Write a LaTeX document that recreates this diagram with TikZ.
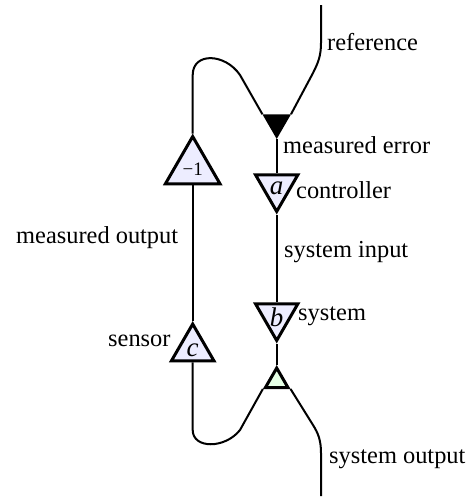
\documentclass[tikz,border=0pt]{standalone}
\usepackage{fontspec}
\setmainfont{Liberation Serif}
\usetikzlibrary{shapes.geometric}
\tikzstyle{updelta}=[regular polygon,regular polygon sides=3,draw,line width=3pt,inner sep=0pt,fill=blue!7]
\tikzstyle{downdelta}=[updelta,shape border rotate=180]
\tikzstyle{wire}=[line width=2pt]
\tikzstyle{tag}=[anchor=base west,inner sep=0pt,font=\fontsize{24.4}{28}\selectfont]
\tikzstyle{var}=[inner sep=0pt,yshift=-1.5pt,font=\fontsize{27}{28}\selectfont\itshape]

\begin{document}
\begin{tikzpicture}[x=1pt,y=-1pt]
    \useasboundingbox (0,0) rectangle (468,499);

    \foreach \pos/\name in {{(276.7,187)/ctrl}, {(276.7,316)/sys}}
        \node[downdelta, minimum size=49pt] (\name) at \pos {};

    \node[downdelta, minimum size=27pt, fill=black] (err) at (276.7,122.5) {};
    \node[updelta, minimum size=26pt, fill=green!10] (out) at (276.7,381) {};
    \node[updelta, minimum size=63pt] (neg) at (192.7,168) {};
    \node[updelta, minimum size=49pt] (sens) at (192.7,348.5) {};

    \node[var] (vara) at (ctrl) {a};
    \node[var] (varb) at (sys) {b};
    \node[var] (varc) at (sens) {c};
    \node[font=\fontsize{19}{20}\selectfont] (minusone) at (192.7,169.5) {−1};

    \coordinate (refin) at (321,5);
    \coordinate (sysout) at (321,496);

    \draw[wire] (refin) -- (321,43) .. controls (321,56) and (318,63) .. (313,73) -- (err.corner 2);
    \draw[wire] (err.corner 3) -- (240,75) .. controls (225,53) and (192.7,52) .. (192.7,75) -- (neg.corner 1);
    \draw[wire] (err.corner 1) -- (ctrl.side 2);
    \draw[wire] (ctrl.corner 1) -- (sys.side 2);
    \draw[wire] (sys.corner 1) -- (out.corner 1);
    \draw[wire] (neg.side 2) -- (sens.corner 1);
    \draw[wire] (sens.side 2) -- (192.7,430) .. controls (192.7,449) and (225,449) .. (240,430) -- (out.corner 2);
    \draw[wire] (out.corner 3) -- (313,425) .. controls (318,433) and (321,440) .. (321,453) -- (sysout);

    \foreach \pos/\name/\label in {{(327,50)/lref/reference}, {(283,153)/lerr/measured error}, {(296,198)/lctrl/controller},
        {(284,257)/lin/system input}, {(298,320)/lsys/system}, {(329,463)/lout/system output},
        {(16,243)/lmeas/measured output}, {(108,346)/lsens/sensor}}
        \node[tag] (\name) at \pos {\label};
\end{tikzpicture}
\end{document}
